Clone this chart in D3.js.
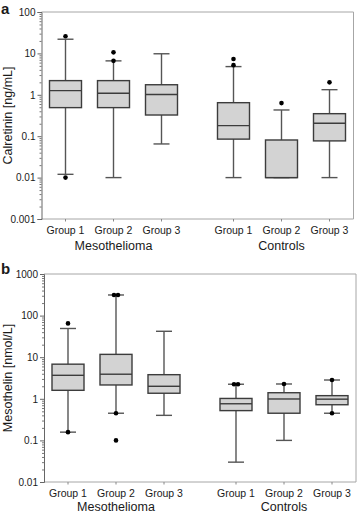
<!DOCTYPE html>
<html>
<head>
<meta charset="utf-8">
<script src="https://cdn.jsdelivr.net/npm/d3@7"></script>
<style>
  body { margin: 0; background: #fff; }
  text { font-family: "Liberation Sans", Arial, sans-serif; fill: #1a1a1a; }
</style>
</head>
<body>
<div id="chart"></div>
<script>
// categories
var cohorts = ["Mesothelioma", "Controls"];
var groupNames = ["Group 1", "Group 2", "Group 3"];

// panel a - calretinin [ng/mL], order: Meso G1..G3, Controls G1..G3
var calLow    = [0.012, 0.01, 0.065, 0.01, 0.01, 0.01];
var calQ1     = [0.49, 0.49, 0.325, 0.085, 0.01, 0.077];
var calMedian = [1.26, 1.09, 1.02, 0.18, 0.01, 0.205];
var calQ3     = [2.2, 2.2, 1.75, 0.645, 0.081, 0.35];
var calHigh   = [22, 6.6, 9.8, 4.8, 0.43, 1.33];
var calOutliers = [[26, 0.01], [10.6, 6.6], [], [7.3, 5.2], [0.63], [2.0]];
var calTicks = [0.001, 0.01, 0.1, 1, 10, 100];

// panel b - mesothelin [nmol/L]
var mesLow    = [0.158, 0.45, 0.4, 0.03, 0.1, 0.45];
var mesQ1     = [1.6, 2.15, 1.36, 0.52, 0.45, 0.72];
var mesMedian = [3.67, 3.9, 2.0, 0.76, 0.99, 0.98];
var mesQ3     = [6.8, 11.7, 3.8, 1.02, 1.4, 1.19];
var mesHigh   = [49, 313, 42, 2.24, 2.27, 2.83];
var mesOutliers = [[65, 0.158], [313, 313, 0.45, 0.1], [], [2.24, 2.24], [2.27], [2.83, 0.45]];
var mesTicks = [0.01, 0.1, 1, 10, 100, 1000];

var W = 358, H = 514;
var svg = d3.select("#chart").append("svg")
    .attr("width", W)
    .attr("height", H);

function tickFmt(v) {
    return v >= 1 ? d3.format("d")(v) : String(+v.toPrecision(1));
}

function drawPanel(opt) {
    var g = svg.append("g");
    var left = opt.left, right = opt.right, top = opt.top, bottom = opt.bottom;

    var y = d3.scaleLog()
        .domain([opt.ticks[0], opt.ticks[opt.ticks.length - 1]])
        .range([bottom, top]);

    // outer band for cohorts, inner band for groups
    var xOuter = d3.scaleBand()
        .domain(cohorts)
        .range([left, right])
        .paddingInner(1 / 7)
        .paddingOuter(0);
    var xInner = d3.scaleBand()
        .domain(groupNames)
        .range([0, xOuter.bandwidth()]);

    var rows = [];
    cohorts.forEach(function(c, ci) {
        groupNames.forEach(function(gn, gi) {
            var i = ci * 3 + gi;
            rows.push({
                cohort: c, group: gn,
                cx: xOuter(c) + xInner(gn) + xInner.bandwidth() / 2,
                low: opt.low[i], q1: opt.q1[i], med: opt.median[i],
                q3: opt.q3[i], high: opt.high[i], out: opt.outliers[i]
            });
        });
    });

    var boxW = xInner.bandwidth() * 2 / 3;
    var capW = xInner.bandwidth() / 3;

    // frame (top, right, bottom)
    g.append("path")
        .attr("d", "M" + left + "," + top + "H" + right + "V" + bottom + "H" + left)
        .attr("fill", "none")
        .attr("stroke", "#a6a6a6")
        .attr("stroke-width", 1);

    // bottom ticks at group centers
    g.selectAll(".xtick")
        .data(rows)
        .enter()
        .append("line")
        .attr("x1", function(d) { return d.cx; })
        .attr("x2", function(d) { return d.cx; })
        .attr("y1", bottom)
        .attr("y2", bottom + 2.5)
        .attr("stroke", "#888");

    // y axis with minor ticks
    var minor = y.ticks().filter(function(t) { return opt.ticks.indexOf(t) < 0; });
    var minorAxis = g.append("g")
        .attr("transform", "translate(" + left + ",0)")
        .call(d3.axisLeft(y).tickValues(minor).tickSize(2).tickFormat(""));
    minorAxis.selectAll("line").attr("stroke", "#777");
    minorAxis.select(".domain").remove();

    var yAxis = g.append("g")
        .attr("transform", "translate(" + left + ",0)")
        .call(d3.axisLeft(y).tickValues(opt.ticks).tickSize(4).tickPadding(2).tickFormat(tickFmt));
    yAxis.select(".domain").attr("stroke", "#666");
    yAxis.selectAll("line").attr("stroke", "#666");
    yAxis.selectAll("text")
        .style("font-family", "Liberation Sans, Arial, sans-serif")
        .style("font-size", "10px")
        .attr("fill", "#1a1a1a");

    // whiskers
    var bx = g.selectAll(".box")
        .data(rows)
        .enter()
        .append("g");

    bx.append("line")
        .attr("x1", function(d) { return d.cx; })
        .attr("x2", function(d) { return d.cx; })
        .attr("y1", function(d) { return y(d.low); })
        .attr("y2", function(d) { return y(d.high); })
        .attr("stroke", "#555")
        .attr("stroke-width", 1.4);

    bx.append("line")
        .attr("x1", function(d) { return d.cx - capW / 2; })
        .attr("x2", function(d) { return d.cx + capW / 2; })
        .attr("y1", function(d) { return y(d.high); })
        .attr("y2", function(d) { return y(d.high); })
        .attr("stroke", "#555")
        .attr("stroke-width", 1.4);

    bx.append("line")
        .attr("x1", function(d) { return d.cx - capW / 2; })
        .attr("x2", function(d) { return d.cx + capW / 2; })
        .attr("y1", function(d) { return y(d.low); })
        .attr("y2", function(d) { return y(d.low); })
        .attr("stroke", "#555")
        .attr("stroke-width", 1.4);

    // boxes
    bx.append("rect")
        .attr("x", function(d) { return d.cx - boxW / 2; })
        .attr("y", function(d) { return y(d.q3); })
        .attr("width", boxW)
        .attr("height", function(d) { return y(d.q1) - y(d.q3); })
        .attr("fill", "#d3d3d3")
        .attr("stroke", "#3c3c3c")
        .attr("stroke-width", 1.4);

    bx.append("line")
        .attr("x1", function(d) { return d.cx - boxW / 2; })
        .attr("x2", function(d) { return d.cx + boxW / 2; })
        .attr("y1", function(d) { return y(d.med); })
        .attr("y2", function(d) { return y(d.med); })
        .attr("stroke", "#3c3c3c")
        .attr("stroke-width", 1.4);

    // outliers, equal values spread sideways
    bx.selectAll(".out")
        .data(function(d) {
            return d.out.map(function(v, k) {
                var same = d.out.filter(function(w) { return w === v; });
                var idx = d.out.slice(0, k).filter(function(w) { return w === v; }).length;
                var shift = same.length > 1 ? (idx - (same.length - 1) / 2) * 4 : 0;
                return {cx: d.cx + shift, v: v};
            });
        })
        .enter()
        .append("circle")
        .attr("cx", function(d) { return d.cx; })
        .attr("cy", function(d) { return y(d.v); })
        .attr("r", 2.3)
        .attr("fill", "#000");

    // group labels
    g.selectAll(".glabel")
        .data(rows)
        .enter()
        .append("text")
        .attr("x", function(d) { return d.cx; })
        .attr("y", bottom + 14.5)
        .attr("text-anchor", "middle")
        .style("font-size", "10.5px")
        .text(function(d) { return d.group; });

    // cohort labels
    g.selectAll(".clabel")
        .data(cohorts)
        .enter()
        .append("text")
        .attr("x", function(d) { return xOuter(d) + xOuter.bandwidth() / 2; })
        .attr("y", bottom + opt.cohortDy)
        .attr("text-anchor", "middle")
        .style("font-size", "12.5px")
        .text(function(d) { return d; });

    // y title
    g.append("text")
        .attr("transform", "translate(12," + ((top + bottom) / 2) + ") rotate(-90)")
        .attr("text-anchor", "middle")
        .style("font-size", "12.5px")
        .text(opt.title);

    // panel letter
    g.append("text")
        .attr("x", 1)
        .attr("y", opt.letterY)
        .style("font-size", "15px")
        .style("font-weight", "bold")
        .text(opt.letter);
}

drawPanel({
    left: 41.5, right: 353.5, top: 12, bottom: 219,
    ticks: calTicks, low: calLow, q1: calQ1, median: calMedian, q3: calQ3,
    high: calHigh, outliers: calOutliers, cohortDy: 31,
    title: "Calretinin [ng/mL]", letter: "a", letterY: 14
});

drawPanel({
    left: 44, right: 356, top: 274, bottom: 482,
    ticks: mesTicks, low: mesLow, q1: mesQ1, median: mesMedian, q3: mesQ3,
    high: mesHigh, outliers: mesOutliers, cohortDy: 28.5,
    title: "Mesothelin [nmol/L]", letter: "b", letterY: 274
});
</script>
</body>
</html>
